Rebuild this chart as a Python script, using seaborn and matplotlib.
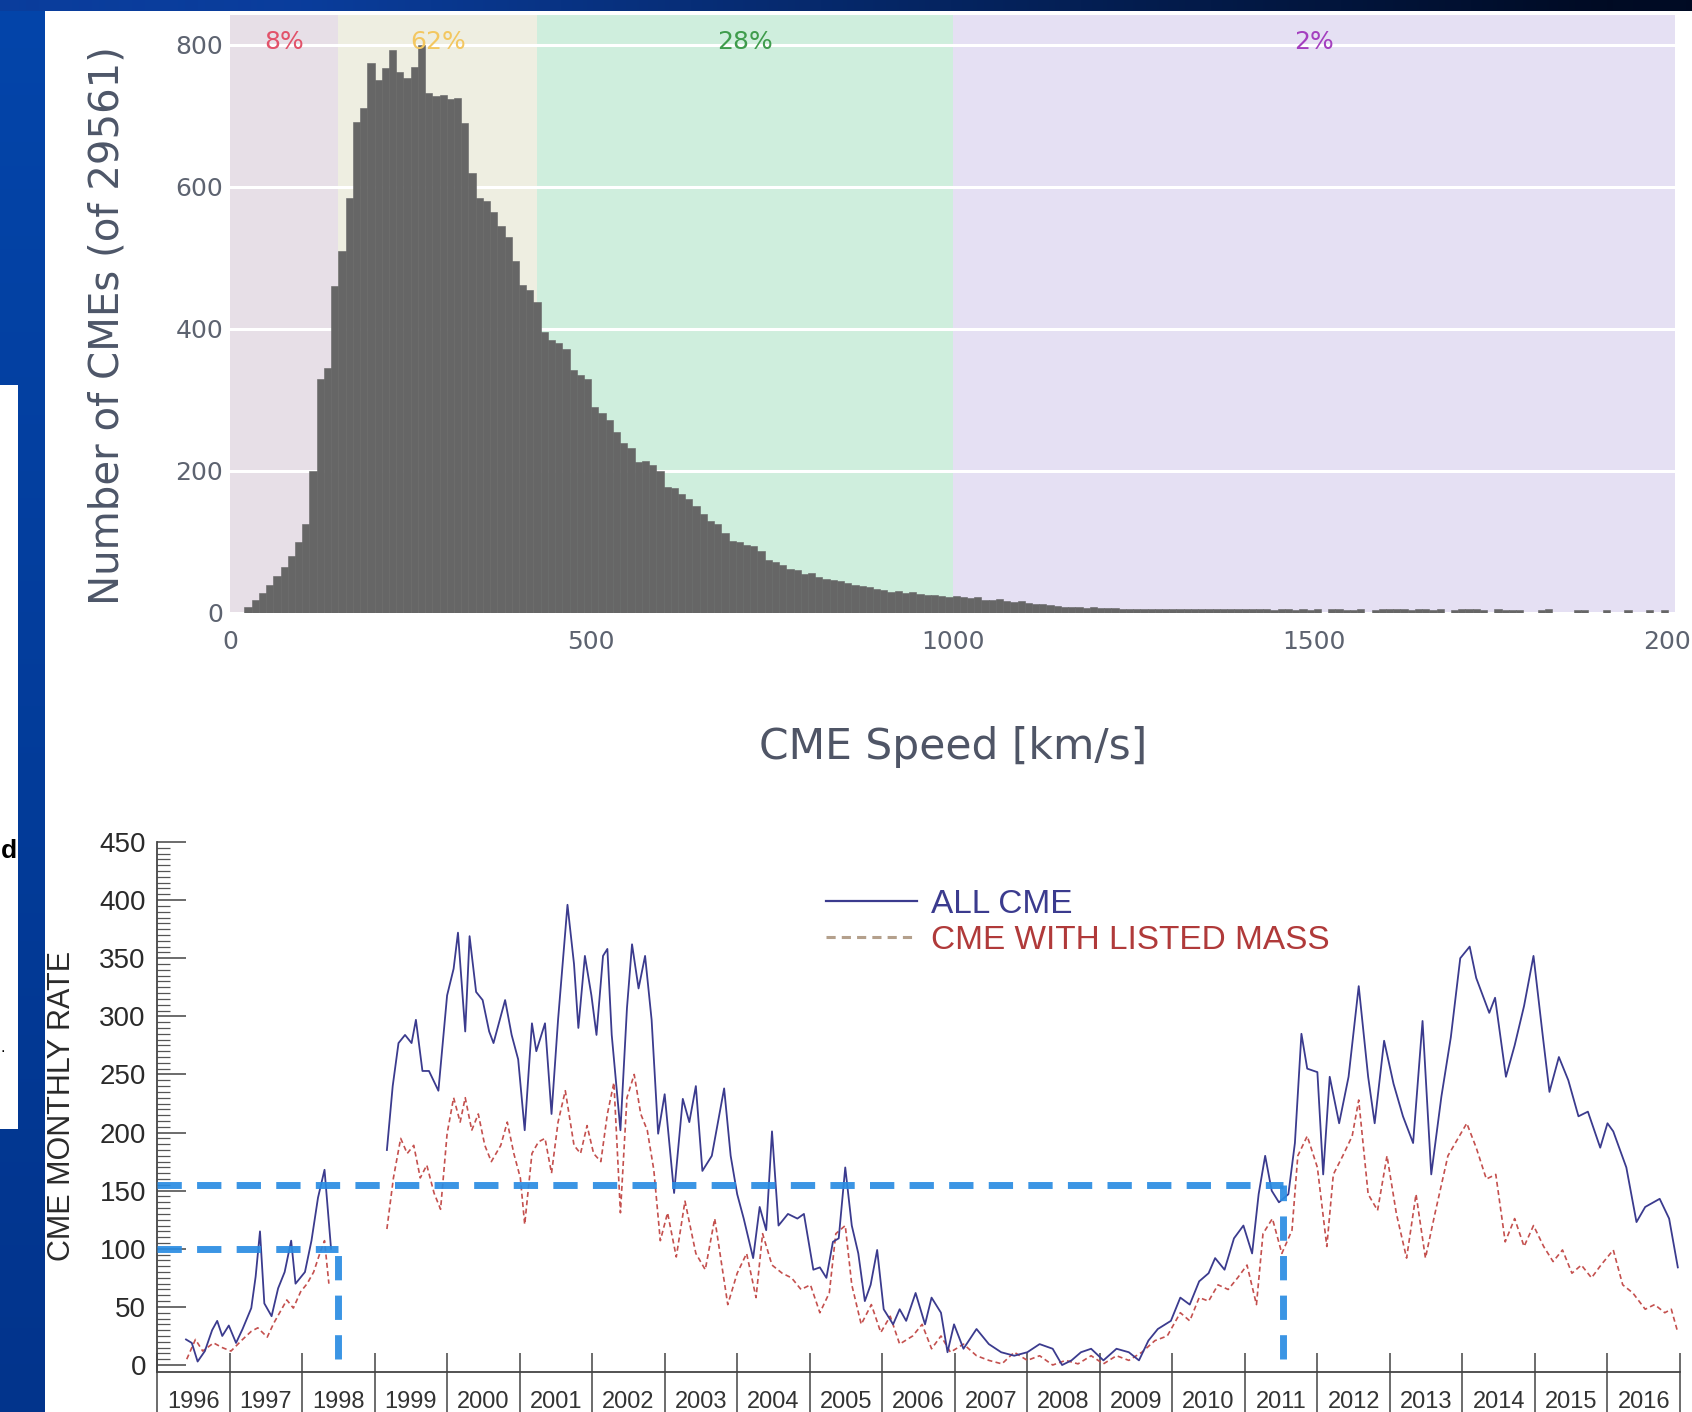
import numpy as np
import pandas as pd
import matplotlib
matplotlib.use("Agg")
import matplotlib.pyplot as plt
import seaborn as sns
from matplotlib.patches import Rectangle
from matplotlib.lines import Line2D

plt.rcParams['font.family'] = ['DejaVu Sans']

# ---------------- data: top histogram (CME speed distribution) ----------------
speed_bin_start = 20
speed_bin_width = 10
cme_counts = [
    8, 18, 28, 40, 52, 65, 80, 100, 125, 200,
    330, 345, 460, 510, 585, 692, 711, 774, 751, 767,
    793, 762, 753, 769, 800, 732, 728, 730, 724, 725,
    690, 620, 585, 580, 565, 545, 530, 495, 462, 455,
    438, 395, 385, 380, 372, 342, 335, 330, 290, 282,
    272, 255, 240, 232, 212, 214, 208, 200, 178, 176,
    168, 160, 150, 140, 130, 125, 112, 102, 100, 96,
    94, 88, 75, 72, 68, 62, 60, 55, 56, 50,
    48, 46, 45, 42, 40, 38, 36, 34, 32, 30,
    31, 28, 30, 27, 25, 26, 24, 23, 24, 22,
    21, 22, 19, 18, 20, 17, 16, 17, 14, 12,
    12, 11, 10, 9, 9, 8, 7, 8, 7, 7,
    7, 6, 6, 6, 6, 6, 6, 6, 5, 6,
    6, 5, 6, 6, 6, 6, 5, 6, 6, 6,
    5, 5, 4, 5, 5, 4, 5, 4, 5, 0,
    5, 5, 4, 4, 5, 0, 4, 5, 5, 5,
    5, 4, 5, 5, 4, 5, 0, 4, 5, 5,
    5, 4, 0, 5, 4, 4, 4, 0, 0, 4,
    5, 0, 0, 0, 4, 4, 0, 0, 4, 0,
    0, 4, 0, 0, 4, 0, 4, 0,
]
band_edges = [0, 150, 425, 1000, 2000]
band_colors = ['#e7dfe7', '#eeeee1', '#cfeedd', '#e5e0f3']
band_labels = ['8%', '62%', '28%', '2%']
band_label_colors = ['#e2526a', '#f3c760', '#3f9c4c', '#a43fbf']
speed_ticks = [0, 500, 1000, 1500, 2000]
count_ticks = [0, 200, 400, 600, 800]

# ---------------- data: bottom time series (CME monthly rate) ----------------
all_cme_1996_1998 = [
    (1996.40, 22), (1996.48, 19), (1996.56, 3), (1996.66, 12), (1996.76, 30),
    (1996.83, 38), (1996.90, 25), (1996.99, 34), (1997.09, 19), (1997.18, 31),
    (1997.30, 49), (1997.36, 76), (1997.42, 115), (1997.48, 53), (1997.58, 42),
    (1997.67, 66), (1997.76, 80), (1997.85, 107), (1997.91, 70), (1998.04, 80),
    (1998.13, 107), (1998.22, 144), (1998.31, 168), (1998.40, 100),
]
all_cme_1999_2016 = [
    (1999.17, 185), (1999.25, 240), (1999.33, 277), (1999.42, 284), (1999.51, 277),
    (1999.57, 297), (1999.66, 253), (1999.75, 253), (1999.88, 236), (2000.00, 318),
    (2000.09, 341), (2000.15, 372), (2000.25, 287), (2000.31, 369), (2000.40, 321),
    (2000.49, 314), (2000.58, 287), (2000.64, 277), (2000.80, 314), (2000.89, 284),
    (2000.98, 263), (2001.07, 202), (2001.17, 294), (2001.23, 270), (2001.35, 294),
    (2001.44, 216), (2001.53, 297), (2001.66, 396), (2001.75, 345), (2001.81, 290),
    (2001.90, 352), (2001.99, 318), (2002.06, 284), (2002.15, 352), (2002.21, 358),
    (2002.27, 284), (2002.39, 202), (2002.48, 307), (2002.55, 362), (2002.64, 324),
    (2002.73, 352), (2002.82, 297), (2002.91, 199), (2003.00, 233), (2003.13, 148),
    (2003.25, 229), (2003.34, 209), (2003.43, 240), (2003.52, 167), (2003.65, 180),
    (2003.82, 238), (2003.91, 180), (2004.00, 147), (2004.09, 126), (2004.22, 92),
    (2004.31, 136), (2004.40, 116), (2004.48, 201), (2004.57, 120), (2004.70, 130),
    (2004.83, 126), (2004.92, 130), (2005.05, 82), (2005.14, 84), (2005.23, 75),
    (2005.32, 106), (2005.40, 109), (2005.49, 170), (2005.58, 120), (2005.67, 96),
    (2005.76, 55), (2005.84, 69), (2005.93, 99), (2006.02, 48), (2006.15, 35),
    (2006.24, 48), (2006.33, 38), (2006.46, 62), (2006.59, 35), (2006.68, 58),
    (2006.81, 45), (2006.90, 11), (2006.99, 35), (2007.12, 14), (2007.30, 31),
    (2007.47, 18), (2007.64, 11), (2007.82, 8), (2008.00, 11), (2008.17, 18),
    (2008.35, 14), (2008.48, 0), (2008.61, 4), (2008.74, 11), (2008.88, 14),
    (2009.05, 4), (2009.23, 14), (2009.40, 11), (2009.54, 4), (2009.67, 21),
    (2009.80, 31), (2009.98, 38), (2010.11, 58), (2010.24, 52), (2010.37, 72),
    (2010.50, 79), (2010.59, 92), (2010.72, 82), (2010.85, 109), (2010.98, 120),
    (2011.10, 96), (2011.19, 147), (2011.28, 180), (2011.37, 150), (2011.47, 140),
    (2011.60, 147), (2011.69, 191), (2011.78, 285), (2011.86, 255), (2012.00, 252),
    (2012.08, 164), (2012.17, 248), (2012.30, 208), (2012.43, 248), (2012.57, 326),
    (2012.70, 248), (2012.79, 208), (2012.92, 279), (2013.05, 242), (2013.18, 214),
    (2013.32, 191), (2013.45, 296), (2013.57, 164), (2013.71, 231), (2013.84, 282),
    (2013.97, 350), (2014.10, 360), (2014.19, 333), (2014.37, 303), (2014.45, 316),
    (2014.60, 248), (2014.72, 275), (2014.85, 309), (2014.98, 352), (2015.11, 282),
    (2015.20, 235), (2015.33, 265), (2015.46, 245), (2015.60, 214), (2015.73, 218),
    (2015.90, 187), (2016.00, 208), (2016.08, 201), (2016.26, 170), (2016.40, 123),
    (2016.52, 136), (2016.72, 143), (2016.85, 126), (2016.97, 84),
]
mass_cme_1996_1998 = [
    (1996.41, 5), (1996.53, 22), (1996.63, 12), (1996.78, 19), (1996.90, 15),
    (1997.02, 12), (1997.18, 22), (1997.30, 29), (1997.39, 32), (1997.52, 24),
    (1997.61, 36), (1997.70, 46), (1997.79, 56), (1997.88, 49), (1997.98, 63),
    (1998.07, 70), (1998.16, 80), (1998.25, 97), (1998.31, 107), (1998.37, 70),
]
mass_cme_1999_2016 = [
    (1999.17, 117), (1999.26, 161), (1999.36, 195), (1999.45, 182), (1999.54, 189),
    (1999.63, 161), (1999.72, 172), (1999.82, 148), (1999.91, 134), (2000.00, 199),
    (2000.09, 230), (2000.18, 209), (2000.25, 230), (2000.34, 202), (2000.43, 216),
    (2000.52, 189), (2000.61, 175), (2000.74, 189), (2000.83, 209), (2000.92, 182),
    (2001.01, 161), (2001.07, 121), (2001.17, 182), (2001.26, 192), (2001.35, 195),
    (2001.44, 165), (2001.53, 209), (2001.63, 236), (2001.75, 189), (2001.84, 182),
    (2001.93, 206), (2002.02, 182), (2002.12, 175), (2002.21, 216), (2002.30, 243),
    (2002.39, 131), (2002.48, 230), (2002.58, 250), (2002.67, 216), (2002.76, 202),
    (2002.85, 168), (2002.94, 107), (2003.04, 131), (2003.16, 93), (2003.28, 141),
    (2003.43, 96), (2003.56, 82), (2003.69, 126), (2003.87, 52), (2004.00, 79),
    (2004.13, 96), (2004.26, 58), (2004.35, 113), (2004.48, 86), (2004.62, 79),
    (2004.75, 75), (2004.88, 65), (2005.01, 69), (2005.14, 45), (2005.27, 62),
    (2005.36, 113), (2005.49, 120), (2005.58, 69), (2005.71, 35), (2005.85, 52),
    (2005.98, 28), (2006.11, 42), (2006.24, 18), (2006.42, 25), (2006.55, 35),
    (2006.68, 14), (2006.81, 25), (2006.94, 11), (2007.12, 18), (2007.30, 8),
    (2007.47, 4), (2007.65, 1), (2007.82, 11), (2008.00, 4), (2008.17, 8),
    (2008.35, 0), (2008.53, 4), (2008.70, 1), (2008.88, 8), (2009.05, 1),
    (2009.23, 8), (2009.40, 4), (2009.58, 11), (2009.76, 21), (2009.93, 25),
    (2010.11, 45), (2010.24, 38), (2010.37, 58), (2010.50, 55), (2010.63, 69),
    (2010.77, 65), (2010.90, 75), (2011.03, 86), (2011.16, 52), (2011.25, 113),
    (2011.38, 126), (2011.51, 96), (2011.65, 116), (2011.73, 180), (2011.86, 197),
    (2012.00, 170), (2012.13, 102), (2012.22, 164), (2012.35, 180), (2012.48, 197),
    (2012.57, 228), (2012.70, 147), (2012.83, 133), (2012.96, 180), (2013.09, 130),
    (2013.23, 92), (2013.36, 147), (2013.49, 92), (2013.62, 130), (2013.80, 180),
    (2013.93, 194), (2014.06, 208), (2014.19, 187), (2014.33, 160), (2014.46, 164),
    (2014.59, 106), (2014.72, 126), (2014.85, 102), (2014.98, 120), (2015.12, 102),
    (2015.25, 89), (2015.38, 99), (2015.51, 79), (2015.64, 86), (2015.78, 75),
    (2015.91, 86), (2016.08, 99), (2016.21, 69), (2016.35, 62), (2016.52, 48),
    (2016.65, 52), (2016.79, 45), (2016.88, 48), (2016.97, 28),
]
threshold_levels = [100, 155]
threshold_years = [1998.5, 2011.52]
year_labels = [str(y) for y in range(1996, 2017)]
rate_ticks = list(range(0, 451, 50))

# ---------------- figure & slide background ----------------
W, H = 1692, 1412
fig = plt.figure(figsize=(W / 100, H / 100), dpi=100)
fig.patch.set_facecolor('#0342a6')


def fx(px):
    return px / W


def fy(py):
    return 1 - py / H


def hexrgb(h):
    return np.array([int(h[i:i + 2], 16) for i in (1, 3, 5)]) / 255.0


yy = np.linspace(0, 1, H)[:, None, None]
grad = hexrgb('#0445aa') * (1 - yy) + hexrgb('#02348c') * yy
grad = np.broadcast_to(grad, (H, W, 3)).copy()
t = np.clip((np.arange(W) - 300) / 1300.0, 0, 1)[:, None]
strip = hexrgb('#0a3d9c') * (1 - t) + hexrgb('#000b24') * t
grad[:11, :, :] = strip[None, :, :]
bg = fig.add_axes([0, 0, 1, 1], zorder=-10)
bg.imshow(grad, extent=[0, 1, 0, 1], aspect='auto', interpolation='bilinear')
bg.axis('off')

fig.add_artist(Rectangle((fx(45), 0), 1 - fx(45), fy(11), transform=fig.transFigure,
                         facecolor='white', edgecolor='none', zorder=-5))
fig.add_artist(Rectangle((0, fy(1129)), fx(18), fy(385) - fy(1129), transform=fig.transFigure,
                         facecolor='white', edgecolor='none', zorder=-5))
fig.text(fx(16.5), fy(851), 'd', ha='right', va='center', fontsize=19, fontweight='bold',
         color='black', family='Liberation Sans')
fig.text(fx(1), fy(1048), '.', ha='left', va='center', fontsize=12, color='black',
         family='Liberation Sans')

# ---------------- top: histogram ----------------
ax1 = fig.add_axes([fx(230), fy(613), (1675 - 230) / W, (613 - 15) / H])
ax1.set_facecolor('none')
for lo, hi, c in zip(band_edges[:-1], band_edges[1:], band_colors):
    ax1.axvspan(lo, hi, color=c, lw=0, zorder=0.1)

edges = speed_bin_start + speed_bin_width * np.arange(len(cme_counts) + 1)
hist_df = pd.DataFrame({'speed': (edges[:-1] + edges[1:]) / 2.0,
                        'count': np.asarray(cme_counts, dtype=float)})
sns.histplot(data=hist_df, x='speed', weights='count', bins=list(edges), color='#666666',
             alpha=1, edgecolor='#666666', linewidth=0.4, ax=ax1, zorder=2)
ax1.set_xlim(0, 2000)
ax1.set_ylim(0, 842)
ax1.set_xticks(speed_ticks)
ax1.set_yticks(count_ticks)
ax1.yaxis.grid(True, color='white', lw=2.2)
ax1.xaxis.grid(False)
ax1.set_axisbelow(True)
for s in ax1.spines.values():
    s.set_visible(False)
ax1.tick_params(axis='both', length=0, labelsize=18, labelcolor='#5d6370')
ax1.tick_params(axis='x', pad=12)
ax1.tick_params(axis='y', pad=5)
ax1.set_xlabel('')
ax1.set_ylabel('')
for lo, hi, lab, c in zip(band_edges[:-1], band_edges[1:], band_labels, band_label_colors):
    ax1.text((lo + hi) / 2, 804, lab, ha='center', va='center', color=c, fontsize=18,
             zorder=5)

fig.text(fx(108), fy(326), 'Number of CMEs (of 29561)', rotation=90, ha='center',
         va='center', fontsize=29, color='#4d5668')
fig.text(fx(953), fy(747), 'CME Speed [km/s]', ha='center', va='center', fontsize=30.5,
         color='#4f5566')

# ---------------- bottom: monthly rates ----------------
def to_frame(segments):
    rows = []
    for k, seg in enumerate(segments):
        for yr, v in seg:
            rows.append({'year': yr, 'rate': v, 'seg': k})
    return pd.DataFrame(rows)


df_all = to_frame([all_cme_1996_1998, all_cme_1999_2016])
df_mass = to_frame([mass_cme_1996_1998, mass_cme_1999_2016])

ax2 = fig.add_axes([fx(157), fy(1372), (1680 - 157) / W, (1372 - 842) / H])
ax2.set_facecolor('none')
navy = '#3b3b8e'
red = '#c4504e'
n0 = len(ax2.lines)
sns.lineplot(data=df_mass, x='year', y='rate', units='seg', estimator=None, color=red,
             lw=1.2, ax=ax2, legend=False, zorder=3)
for ln in ax2.lines[n0:]:
    ln.set_dashes([3, 2])
sns.lineplot(data=df_all, x='year', y='rate', units='seg', estimator=None, color=navy,
             lw=1.3, ax=ax2, legend=False, zorder=4)

dash_blue = '#2a8ce2'
ax2.hlines(threshold_levels, 1996, threshold_years, colors=dash_blue, lw=5,
           linestyles=(0, (3.5, 2.2)), alpha=0.92, zorder=5)
ax2.vlines(threshold_years, 5, threshold_levels, colors=dash_blue, lw=5,
           linestyles=(0, (3.5, 2.2)), alpha=0.92, zorder=5)

ax2.set_xlim(1996, 2017)
ax2.set_ylim(-6, 450)
for side in ('top', 'right'):
    ax2.spines[side].set_visible(False)
for side in ('left', 'bottom'):
    ax2.spines[side].set_color('#444444')
    ax2.spines[side].set_linewidth(1.3)
ax2.set_yticks(rate_ticks)
ax2.set_yticks(list(range(0, 451, 5)), minor=True)
ax2.set_yticklabels([str(v) for v in rate_ticks], family='Liberation Sans', fontsize=20,
                    color='#2a2a2a')
ax2.tick_params(axis='y', which='major', direction='in', length=21, width=1.1,
                color='#444444', pad=8)
ax2.tick_params(axis='y', which='minor', direction='in', length=9, width=0.9,
                color='#555555')
years = list(range(1996, 2018))
ax2.set_xticks(years)
ax2.set_xticklabels([])
ax2.tick_params(axis='x', which='major', direction='in', length=13.5, width=1.1,
                color='#444444')
ax2.set_xticks([y + 0.5 for y in years[:-1]], minor=True)
ax2.set_xticklabels(year_labels, minor=True, family='Liberation Sans', fontsize=17,
                    color='#333333')
ax2.tick_params(axis='x', which='minor', length=0, pad=14)
xtrans = ax2.get_xaxis_transform()
for y in years:
    ax2.plot([y, y], [0, -0.12], transform=xtrans, color='#444444', lw=1.1,
             clip_on=False)
ax2.set_xlabel('')
ax2.set_ylabel('')
fig.text(fx(62), fy(1106), 'CME MONTHLY RATE', rotation=90, ha='center', va='center',
         fontsize=22, color='#2a2a2a', family='Liberation Sans')

handles = [Line2D([], [], color=navy, lw=1.6),
           Line2D([], [], color='#b4a08c', lw=2.2, dashes=[3, 2])]
leg = ax2.legend(handles, ['ALL CME', 'CME WITH LISTED MASS'], loc='upper left',
                 bbox_to_anchor=(0.439, 0.912), frameon=False, borderaxespad=0,
                 borderpad=0, handlelength=2.75, handletextpad=0.4, labelspacing=0.15,
                 prop={'family': 'Liberation Sans', 'size': 24})
for txt, c in zip(leg.get_texts(), [navy, '#b03a3a']):
    txt.set_color(c)

fig.savefig('out.png', dpi=100, facecolor=fig.get_facecolor())
